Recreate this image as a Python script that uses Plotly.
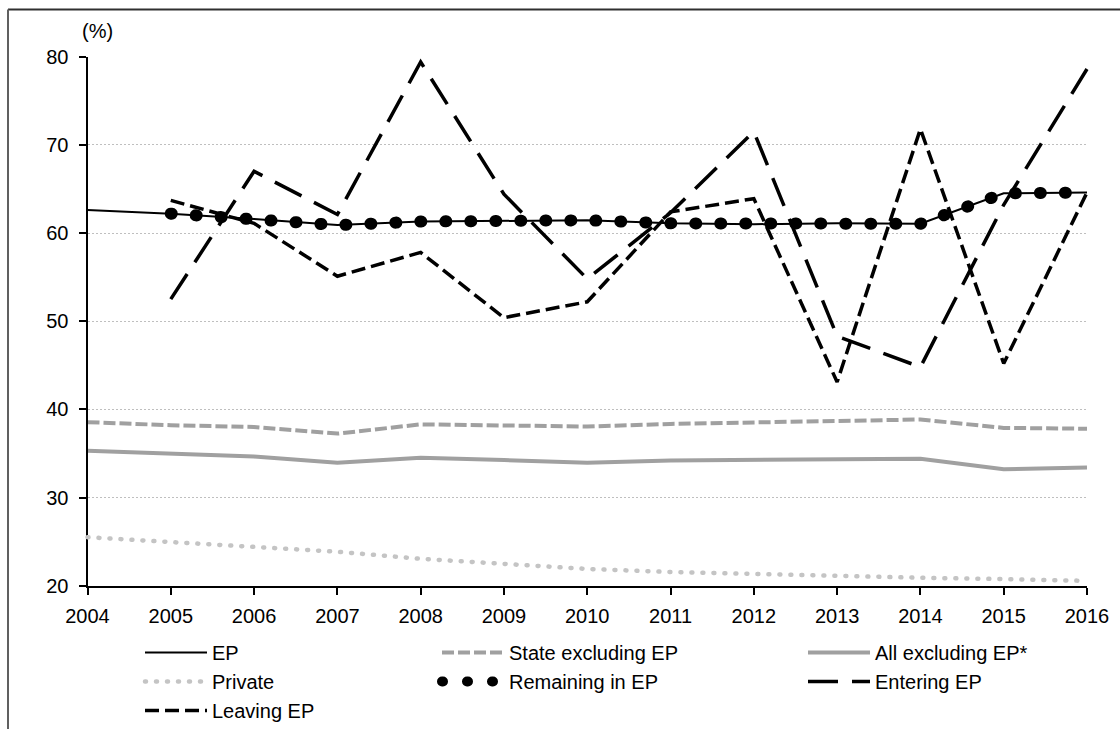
import plotly.graph_objects as go

# ---------------- data ----------------
years = [2004, 2005, 2006, 2007, 2008, 2009, 2010, 2011, 2012, 2013, 2014, 2015, 2016]
ep = [62.6, 62.2, 61.6, 60.9, 61.3, 61.35, 61.45, 61.1, 61.0, 61.1, 61.05, 64.5, 64.6]
state_excl_ep = [38.55, 38.2, 38.0, 37.25, 38.3, 38.2, 38.05, 38.35, 38.55, 38.7, 38.85, 37.9, 37.8]
all_excl_ep = [35.3, 34.95, 34.65, 33.95, 34.5, 34.25, 33.95, 34.2, 34.3, 34.4, 34.4, 33.2, 33.4]
private = [25.5, 24.95, 24.45, 23.85, 23.05, 22.5, 21.9, 21.55, 21.3, 21.05, 20.9, 20.75, 20.55]
remaining_ep = [None, 62.2, 61.6, 60.9, 61.3, 61.35, 61.45, 61.1, 61.0, 61.1, 61.05, 64.5, 64.6]
entering_ep = [None, 52.5, 67.0, 62.1, 79.4, 64.4, 54.8, 62.3, 71.5, 48.3, 44.8, 63.2, 78.6]
leaving_ep = [None, 63.7, 61.1, 55.1, 57.8, 50.4, 52.2, 62.4, 63.9, 43.1, 71.8, 45.2, 64.6]
y_ticks = [20, 30, 40, 50, 60, 70, 80]
y_unit_label = "(%)"

# ---------------- layout geometry (pixels) ----------------
FIG_W, FIG_H = 1120, 729
ML, MR, MT, MB = 80, 23, 48, 135
PW = FIG_W - ML - MR
PH = FIG_H - MT - MB
X_START_PX, X_END_PX = 87.5, 1087.0
Y_TOP_PX, Y_BOT_PX = 56.7, 585.7


def pxx(px):
    return (px - ML) / PW


def pxy(py):
    return (FIG_H - MB - py) / PH


xmin, xmax = years[0], years[-1]
ymin, ymax = y_ticks[0], y_ticks[-1]
sx = (X_END_PX - X_START_PX) / (xmax - xmin)
sy = (Y_BOT_PX - Y_TOP_PX) / (ymax - ymin)
x2_range = [xmin - (X_START_PX - ML) / sx, xmax + (ML + PW - X_END_PX) / sx]
y2_range = [ymin - (FIG_H - MB - Y_BOT_PX) / sy, ymax + (Y_TOP_PX - MT) / sy]

FONT = "Liberation Sans, Arial, sans-serif"
FS = 20

fig = go.Figure()


def add(name, y, color, width, dash, legend, rank, main_axes):
    fig.add_trace(go.Scatter(
        x=years, y=y, name=name, mode="lines",
        line=dict(color=color, width=width, dash=dash),
        xaxis="x" if main_axes else "x2", yaxis="y" if main_axes else "y2",
        legend=legend, legendrank=rank,
        connectgaps=False, hoverinfo="skip",
    ))


add("State excluding EP", state_excl_ep, "#A0A0A0", 4, "12px,4px", "legend2", 1, True)
add("All excluding EP*", all_excl_ep, "#A0A0A0", 4, "solid", "legend3", 1, True)
add("Private", private, "#C4C4C4", 4.5, "1px,10px", "legend", 2, False)
add("Leaving EP", leaving_ep, "#000000", 3.5, "14px,6px", "legend", 3, False)
add("Entering EP", entering_ep, "#000000", 3.5, "30px,14px", "legend3", 2, False)
add("EP", ep, "#000000", 2, "solid", "legend", 1, True)
add("Remaining in EP", remaining_ep, "#000000", 12, "1px,24px", "legend2", 2, False)

leg_common = dict(orientation="v", xanchor="left", yanchor="top",
                  font=dict(family=FONT, size=FS, color="#000000"),
                  bgcolor="rgba(0,0,0,0)", borderwidth=0, itemwidth=62,
                  tracegroupgap=0, traceorder="normal")
leg_top = pxy(633)

fig.update_layout(
    width=FIG_W, height=FIG_H,
    margin=dict(l=ML, r=MR, t=MT, b=MB, pad=0, autoexpand=False),
    paper_bgcolor="white", plot_bgcolor="rgba(0,0,0,0)",
    font=dict(family=FONT, size=FS, color="#000000"),
    showlegend=True,
    legend=dict(x=pxx(140), y=leg_top, **leg_common),
    legend2=dict(x=pxx(437), y=leg_top, **leg_common),
    legend3=dict(x=pxx(803), y=leg_top, **leg_common),
    xaxis=dict(domain=[pxx(X_START_PX), pxx(X_END_PX)], range=[xmin, xmax],
               tickvals=years, ticks="outside", ticklen=7, tickwidth=2,
               tickcolor="#000000", showline=True, linewidth=2, linecolor="#000000",
               showgrid=False, zeroline=False, anchor="y", fixedrange=True,
               automargin=False, ticklabelstandoff=4,
               tickfont=dict(family=FONT, size=FS, color="#000000")),
    yaxis=dict(domain=[pxy(Y_BOT_PX), pxy(Y_TOP_PX)], range=[ymin, ymax],
               tickvals=y_ticks, ticks="outside", ticklen=7, tickwidth=2,
               tickcolor="#000000", showline=True, linewidth=2, linecolor="#000000",
               showgrid=True, gridcolor="#BFBFBF", gridwidth=1, griddash="2px,2px",
               zeroline=False, anchor="x", ticklabelstandoff=6, fixedrange=True,
               automargin=False,
               tickfont=dict(family=FONT, size=FS, color="#000000")),
    xaxis2=dict(domain=[0, 1], range=x2_range, visible=False, anchor="y2",
                fixedrange=True),
    yaxis2=dict(domain=[0, 1], range=y2_range, visible=False, anchor="x2",
                fixedrange=True),
    annotations=[dict(text=y_unit_label, xref="paper", yref="paper",
                      x=pxx(97), y=pxy(31), xanchor="center", yanchor="middle",
                      showarrow=False, font=dict(family=FONT, size=FS, color="#000000"))],
    shapes=[
        dict(type="line", xref="paper", yref="paper",
             x0=pxx(8), x1=pxx(FIG_W + 5), y0=pxy(9.5), y1=pxy(9.5),
             line=dict(color="#303030", width=2), layer="below"),
        dict(type="line", xref="paper", yref="paper",
             x0=pxx(8), x1=pxx(8), y0=pxy(9.5), y1=pxy(FIG_H + 5),
             line=dict(color="#606060", width=2), layer="below"),
    ],
)

post = """
document.body.style.margin = '0';
var gd = document.getElementById('{plot_id}');
gd.querySelectorAll('path').forEach(function(p){
  var d = p.style.strokeDasharray || '';
  if (d.indexOf('1px') === 0) { p.style.strokeLinecap = 'round'; }
});
"""

fig.write_html("out.html", post_script=post, config={"displayModeBar": False})
